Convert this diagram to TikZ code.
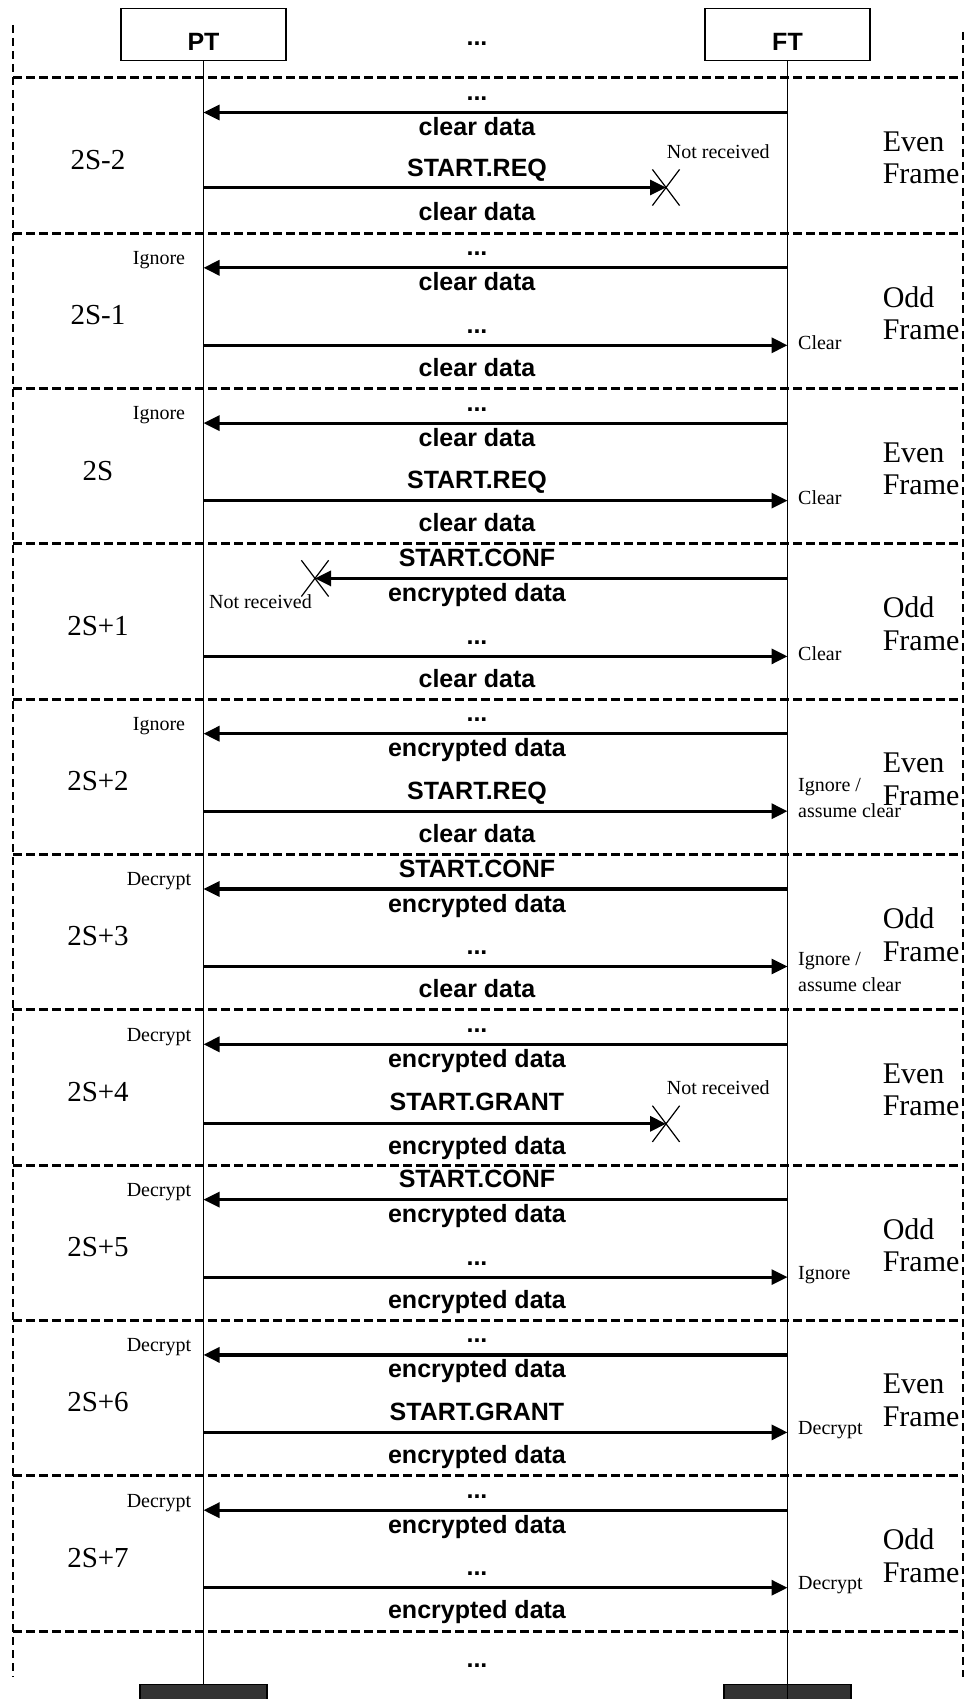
\documentclass[tikz,border=0pt]{standalone}
\usepackage{fontspec}
\setmainfont{Liberation Serif}
\setsansfont{Liberation Sans}
\usetikzlibrary{arrows.meta,shapes.misc}

\begin{document}
\begin{tikzpicture}[
  x=1pt,y=-1pt,
  head/.style={draw,line width=1.3pt,fill=white,minimum width=165pt,minimum height=52pt,inner sep=0pt,
    font=\sffamily\bfseries\fontsize{25}{30}\selectfont,text height=34pt,text depth=1.6pt},
  tail/.style={draw,line width=1.3pt,fill=black!80,minimum width=127pt,minimum height=40pt,anchor=north},
  life/.style={line width=1.5pt},
  msg/.style={line width=3.2pt,-{Triangle[length=16pt,width=15pt]}},
  sep/.style={line width=3pt,dash pattern=on 8.5pt off 4.5pt},
  side/.style={line width=2pt,dash pattern=on 8pt off 5pt},
  txt/.style={anchor=base,inner sep=0pt,font=\sffamily\bfseries\fontsize{25}{30}\selectfont},
  note/.style={inner sep=0pt,font=\fontsize{20}{26}\selectfont},
  slot/.style={inner sep=0pt,font=\fontsize{29}{32}\selectfont},
  parity/.style={anchor=west,align=left,inner sep=0pt,font=\fontsize{30}{32.5}\selectfont},
  lost/.style={cross out,draw,line width=1.2pt,minimum width=26pt,minimum height=35pt,inner sep=0pt}
]
\useasboundingbox (0,0) rectangle (966,1699);
% entities and lifelines
\node[head] (pt) at (203.5,34.5) {PT};
\node[head] (ft) at (787.5,34.5) {FT};
\node[txt] (hdots) at (477,45.5) {...};
\node[tail] (ptend) at (203.5,1684) {};
\node[tail] (ftend) at (787.5,1684) {};
\draw[life] (pt) -- (ptend);
\draw[life] (ft.south) -- (ftend.south);
\draw[side] (13,25) -- (13,1677);
\draw[side] (963,32) -- (963,1677);
% 2S-2
\begin{scope}[shift={(0,78)}]
\draw[sep] (13,0) -- (963,0);
\node[slot] (n0) at (98,82) {2S-2};
\node[parity] (f0) at (882.6,80) {Even\\Frame};
\draw[msg] (ft |- 0,34.5) -- (pt |- 0,34.5);
\node[txt] (a0) at (477,22.5) {...};
\node[txt] (b0) at (477,57.5) {clear data};
\node[lost] (x0) at (666,109.5) {};
\draw[msg] (pt |- 0,109.5) -- (x0.center);
\node[txt] (c0) at (477,99) {START.REQ};
\node[txt] (d0) at (477,142) {clear data};
\node[note,anchor=west] (r0) at (666.7,74) {Not received};
\end{scope}
% 2S-1
\begin{scope}[shift={(0,233.3)}]
\draw[sep] (13,0) -- (963,0);
\node[slot] (n1) at (98,82) {2S-1};
\node[parity] (f1) at (882.6,80) {Odd\\Frame};
\draw[msg] (ft |- 0,34.5) -- (pt |- 0,34.5);
\node[txt] (a1) at (477,22.5) {...};
\node[txt] (b1) at (477,57.5) {clear data};
\node[note] (l1) at (159,27) {Ignore};
\draw[msg] (pt |- 0,112) -- (ft |- 0,112);
\node[txt] (c1) at (477,100) {...};
\node[txt] (d1) at (477,143) {clear data};
\node[note,anchor=west] (r1) at (798,109) {Clear};
\end{scope}
% 2S
\begin{scope}[shift={(0,388.6)}]
\draw[sep] (13,0) -- (963,0);
\node[slot] (n2) at (98,82) {2S};
\node[parity] (f2) at (882.6,80) {Even\\Frame};
\draw[msg] (ft |- 0,34.5) -- (pt |- 0,34.5);
\node[txt] (a2) at (477,22.5) {...};
\node[txt] (b2) at (477,57.5) {clear data};
\node[note] (l2) at (159,27) {Ignore};
\draw[msg] (pt |- 0,112) -- (ft |- 0,112);
\node[txt] (c2) at (477,100) {START.REQ};
\node[txt] (d2) at (477,143) {clear data};
\node[note,anchor=west] (r2) at (798,109) {Clear};
\end{scope}
% 2S+1
\begin{scope}[shift={(0,543.9)}]
\draw[sep] (13,0) -- (963,0);
\node[slot] (n3) at (98,82) {2S+1};
\node[parity] (f3) at (882.6,80) {Odd\\Frame};
\node[lost] (x3) at (315,34.5) {};
\draw[msg] (ft |- 0,34.5) -- (x3.center);
\node[txt] (a3) at (477,22.5) {START.CONF};
\node[txt] (b3) at (477,57.5) {encrypted data};
\node[note,anchor=east] (l3) at (312,57.8) {Not received};
\draw[msg] (pt |- 0,112.5) -- (ft |- 0,112.5);
\node[txt] (c3) at (477,100.5) {...};
\node[txt] (d3) at (477,143.5) {clear data};
\node[note,anchor=west] (r3) at (798,109.5) {Clear};
\end{scope}
% 2S+2
\begin{scope}[shift={(0,699.2)}]
\draw[sep] (13,0) -- (963,0);
\node[slot] (n4) at (98,82) {2S+2};
\node[parity] (f4) at (882.6,80) {Even\\Frame};
\draw[msg] (ft |- 0,34.5) -- (pt |- 0,34.5);
\node[txt] (a4) at (477,22.5) {...};
\node[txt] (b4) at (477,57.5) {encrypted data};
\node[note] (l4) at (159,27) {Ignore};
\draw[msg] (pt |- 0,112) -- (ft |- 0,112);
\node[txt] (c4) at (477,100) {START.REQ};
\node[txt] (d4) at (477,143) {clear data};
\node[note,anchor=west,align=left] (r4) at (798,98.3) {Ignore /\\assume clear};
\end{scope}
% 2S+3
\begin{scope}[shift={(0,854.5)}]
\draw[sep] (13,0) -- (963,0);
\node[slot] (n5) at (98,82) {2S+3};
\node[parity] (f5) at (882.6,80) {Odd\\Frame};
\draw[msg] (ft |- 0,34.5) -- (pt |- 0,34.5);
\node[txt] (a5) at (477,22.5) {START.CONF};
\node[txt] (b5) at (477,57.5) {encrypted data};
\node[note] (l5) at (159,27) {Decrypt};
\draw[msg] (pt |- 0,112) -- (ft |- 0,112);
\node[txt] (c5) at (477,100) {...};
\node[txt] (d5) at (477,143) {clear data};
\node[note,anchor=west,align=left] (r5) at (798,117.3) {Ignore /\\assume clear};
\end{scope}
% 2S+4
\begin{scope}[shift={(0,1009.8)}]
\draw[sep] (13,0) -- (963,0);
\node[slot] (n6) at (98,82) {2S+4};
\node[parity] (f6) at (882.6,80) {Even\\Frame};
\draw[msg] (ft |- 0,34.5) -- (pt |- 0,34.5);
\node[txt] (a6) at (477,22.5) {...};
\node[txt] (b6) at (477,57.5) {encrypted data};
\node[note] (l6) at (159,27) {Decrypt};
\node[lost] (x6) at (666,114) {};
\draw[msg] (pt |- 0,114) -- (x6.center);
\node[txt] (c6) at (477,101) {START.GRANT};
\node[txt] (d6) at (477,144.5) {encrypted data};
\node[note,anchor=west] (r6) at (666.7,78) {Not received};
\end{scope}
% 2S+5
\begin{scope}[shift={(0,1165.1)}]
\draw[sep] (13,0) -- (963,0);
\node[slot] (n7) at (98,82) {2S+5};
\node[parity] (f7) at (882.6,80) {Odd\\Frame};
\draw[msg] (ft |- 0,34.5) -- (pt |- 0,34.5);
\node[txt] (a7) at (477,22.5) {START.CONF};
\node[txt] (b7) at (477,57.5) {encrypted data};
\node[note] (l7) at (159,27) {Decrypt};
\draw[msg] (pt |- 0,112) -- (ft |- 0,112);
\node[txt] (c7) at (477,100) {...};
\node[txt] (d7) at (477,143) {encrypted data};
\node[note,anchor=west] (r7) at (798,109.5) {Ignore};
\end{scope}
% 2S+6
\begin{scope}[shift={(0,1320.4)}]
\draw[sep] (13,0) -- (963,0);
\node[slot] (n8) at (98,82) {2S+6};
\node[parity] (f8) at (882.6,80) {Even\\Frame};
\draw[msg] (ft |- 0,34.5) -- (pt |- 0,34.5);
\node[txt] (a8) at (477,22.5) {...};
\node[txt] (b8) at (477,57.5) {encrypted data};
\node[note] (l8) at (159,27) {Decrypt};
\draw[msg] (pt |- 0,112) -- (ft |- 0,112);
\node[txt] (c8) at (477,100) {START.GRANT};
\node[txt] (d8) at (477,143) {encrypted data};
\node[note,anchor=west] (r8) at (798,109.5) {Decrypt};
\end{scope}
% 2S+7
\begin{scope}[shift={(0,1475.7)}]
\draw[sep] (13,0) -- (963,0);
\node[slot] (n9) at (98,82) {2S+7};
\node[parity] (f9) at (882.6,80) {Odd\\Frame};
\draw[msg] (ft |- 0,34.5) -- (pt |- 0,34.5);
\node[txt] (a9) at (477,22.5) {...};
\node[txt] (b9) at (477,57.5) {encrypted data};
\node[note] (l9) at (159,27) {Decrypt};
\draw[msg] (pt |- 0,112) -- (ft |- 0,112);
\node[txt] (c9) at (477,100) {...};
\node[txt] (d9) at (477,143) {encrypted data};
\node[note,anchor=west] (r9) at (798,109.5) {Decrypt};
\end{scope}
\draw[sep] (13,1631) -- (963,1631);
\node[txt] (tdots) at (477,1667) {...};
\end{tikzpicture}
\end{document}
